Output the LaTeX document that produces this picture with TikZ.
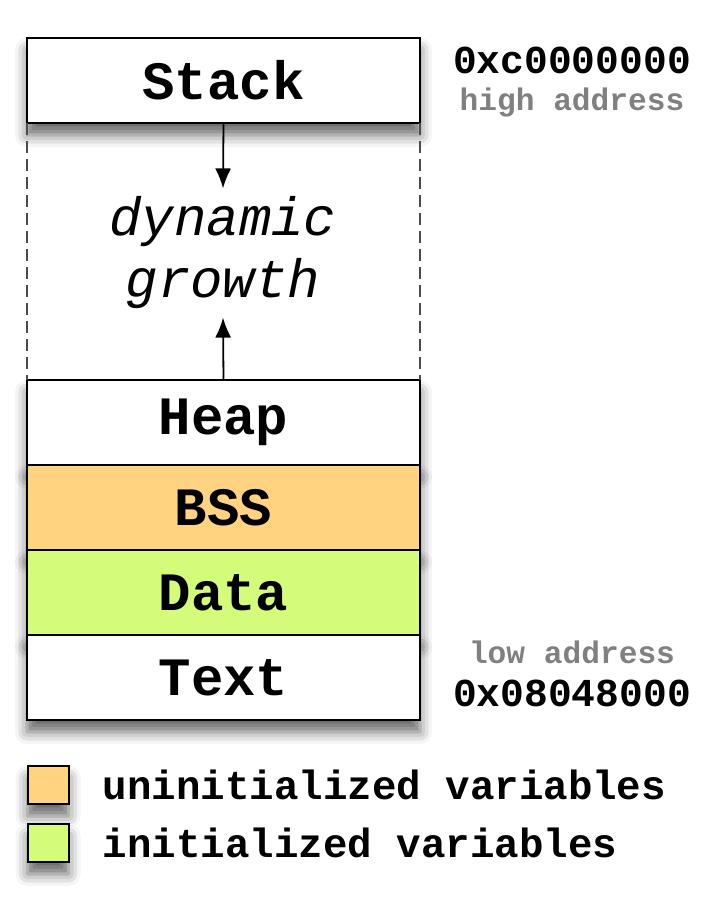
\documentclass[tikz,border=0pt]{standalone}
\usepackage{fontspec}
\setmainfont{Liberation Mono}
\usetikzlibrary{positioning}
\usetikzlibrary{arrows.meta}
\usetikzlibrary{shadows.blur}
\usepackage{xcolor}
\definecolor{bssorange}{RGB}{255,211,127}
\definecolor{datagreen}{RGB}{212,251,122}
\definecolor{addrgray}{RGB}{128,128,128}

\begin{document}
\begin{tikzpicture}[x=0.5pt,y=-0.5pt,
  soft/.style={blur shadow={shadow xshift=0pt,shadow yshift=-6pt,shadow blur radius=6pt,shadow opacity=60}},
  seg/.style={draw,line width=1pt,fill=white,minimum width=196.5pt,minimum height=42.5pt,inner sep=0pt,outer sep=0pt,soft,font=\fontsize{27}{31}\selectfont\bfseries},
  addr/.style={font=\fontsize{19.8}{24}\selectfont\bfseries},
  note/.style={text=addrgray,font=\fontsize{15.6}{18}\selectfont\bfseries},
  key/.style={draw,line width=1pt,minimum width=20.5pt,minimum height=19pt,inner sep=0pt,soft},
  keytext/.style={inner sep=0pt,font=\fontsize{20.4}{24}\selectfont\bfseries},
  growarrow/.style={-{Latex[length=10pt,width=8pt]},line width=0.9pt}]
\useasboundingbox (0,0) rectangle (724,920);

\node [seg] (stack) at (223.5,80.5) {Stack};
\node [seg] (heap) at (223.5,422.5) {Heap};
\node [seg,fill=bssorange,below=0pt of heap] (bss) {BSS};
\node [seg,fill=datagreen,below=0pt of bss] (data) {Data};
\node [seg,below=0pt of data] (text) {Text};

\draw [dash pattern=on 6pt off 3pt,line width=0.6pt,black!70] (stack.south west) -- (heap.north west);
\draw [dash pattern=on 6pt off 3pt,line width=0.6pt,black!70] (stack.south east) -- (heap.north east);

\node [align=center,inner sep=4pt,font=\fontsize{27}{31}\selectfont\itshape] (growth) at (223,253) {dynamic\\growth};
\draw [growarrow] (stack.south) -- (growth.north);
\draw [growarrow] (heap.north) -- (growth.south);

\node [addr] (hiaddr) at (572,60) {0xc0000000};
\node [note] (hinote) at (572,103) {high address};
\node [note] (lonote) at (572,652) {low address};
\node [addr] (loaddr) at (572,693) {0x08048000};

\node [key,fill=bssorange] (keybss) at (48,785) {};
\node [key,fill=datagreen] (keydata) at (48,843) {};
\node [keytext,right=16.5pt of keybss] (bsslabel) {uninitialized variables};
\node [keytext,right=16.5pt of keydata] (datalabel) {initialized variables};
\end{tikzpicture}
\end{document}
